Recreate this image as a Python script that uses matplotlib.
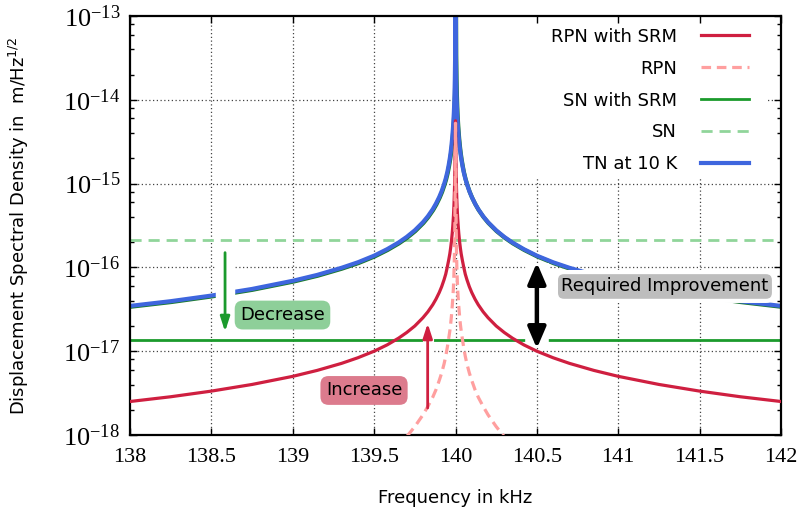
import math
import matplotlib
matplotlib.use("Agg")
import matplotlib.pyplot as plt
import matplotlib.patheffects as pe
from matplotlib.patches import Rectangle
from matplotlib.ticker import (MultipleLocator, LogLocator, FixedLocator, FuncFormatter,
                               FormatStrFormatter, NullFormatter)

# frequency grid in kHz (dense around the 140 kHz resonance)
freq = [138.0, 138.25, 138.5, 138.75, 139.0, 139.15, 139.3, 139.4, 139.5,
        139.58, 139.65, 139.7, 139.75, 139.8, 139.83, 139.86, 139.88, 139.9,
        139.915, 139.93, 139.94, 139.95, 139.958, 139.965, 139.97, 139.975, 139.98,
        139.984, 139.987, 139.99, 139.992, 139.994, 139.996, 139.998, 140.0,
        140.002, 140.004, 140.006, 140.008, 140.01, 140.013, 140.016,
        140.02, 140.025, 140.03, 140.035, 140.042, 140.05, 140.06, 140.07, 140.085,
        140.1, 140.12, 140.14, 140.17, 140.2, 140.25, 140.3, 140.35, 140.42,
        140.5, 140.6, 140.7, 140.85, 141.0, 141.25, 141.5, 141.75, 142.0]

# thermal noise at 10 K
tn_10k = [3.47e-17, 3.95e-17, 4.61e-17, 5.53e-17, 6.92e-17, 8.13e-17, 9.89e-17, 1.15e-16, 1.38e-16,
          1.65e-16, 1.98e-16, 2.31e-16, 2.77e-16, 3.46e-16, 4.07e-16, 4.94e-16, 5.77e-16, 6.92e-16,
          8.13e-16, 9.89e-16, 1.15e-15, 1.38e-15, 1.66e-15, 2.00e-15, 2.34e-15, 2.82e-15, 3.55e-15,
          4.47e-15, 5.50e-15, 7.08e-15, 8.91e-15, 1.17e-14, 1.78e-14, 3.55e-14, 3.16e-13,
          3.55e-14, 1.78e-14, 1.17e-14, 8.91e-15, 7.08e-15, 5.50e-15, 4.47e-15,
          3.55e-15, 2.82e-15, 2.34e-15, 2.00e-15, 1.66e-15, 1.38e-15, 1.15e-15, 9.89e-16, 8.13e-16,
          6.92e-16, 5.77e-16, 4.94e-16, 4.07e-16, 3.46e-16, 2.77e-16, 2.31e-16, 1.98e-16, 1.65e-16,
          1.38e-16, 1.15e-16, 9.89e-17, 8.13e-17, 6.92e-17, 5.53e-17, 4.61e-17, 3.95e-17, 3.47e-17]

# radiation pressure noise with signal recycling
rpn_srm = [2.51e-18, 2.86e-18, 3.34e-18, 4.01e-18, 5.01e-18, 5.90e-18, 7.16e-18, 8.35e-18, 1.00e-17,
           1.19e-17, 1.43e-17, 1.67e-17, 2.00e-17, 2.51e-17, 2.95e-17, 3.58e-17, 4.18e-17, 5.01e-17,
           5.89e-17, 7.16e-17, 8.32e-17, 1.02e-16, 1.22e-16, 1.45e-16, 1.70e-16, 2.04e-16, 2.57e-16,
           3.24e-16, 3.98e-16, 5.25e-16, 6.61e-16, 8.91e-16, 1.35e-15, 2.51e-15, 5.62e-15,
           2.51e-15, 1.35e-15, 8.91e-16, 6.61e-16, 5.25e-16, 3.98e-16, 3.24e-16,
           2.57e-16, 2.04e-16, 1.70e-16, 1.45e-16, 1.22e-16, 1.02e-16, 8.32e-17, 7.16e-17, 5.89e-17,
           5.01e-17, 4.18e-17, 3.58e-17, 2.95e-17, 2.51e-17, 2.00e-17, 1.67e-17, 1.43e-17, 1.19e-17,
           1.00e-17, 8.35e-18, 7.16e-18, 5.90e-18, 5.01e-18, 4.01e-18, 3.34e-18, 2.86e-18, 2.51e-18]

# radiation pressure noise without SRM (only the part above 1e-18)
freq_rpn = [139.58, 139.65, 139.7, 139.75, 139.8, 139.83, 139.86, 139.88, 139.9,
            139.915, 139.93, 139.94, 139.95, 139.958, 139.965, 139.97, 139.975, 139.98,
            139.984, 139.987, 139.99, 139.992, 139.994, 139.996, 139.998, 140.0,
            140.002, 140.004, 140.006, 140.008, 140.01, 140.013, 140.016,
            140.02, 140.025, 140.03, 140.035, 140.042, 140.05, 140.06, 140.07, 140.085,
            140.1, 140.12, 140.14, 140.17, 140.2, 140.25, 140.3, 140.35, 140.42]
rpn = [5.13e-19, 7.24e-19, 9.55e-19, 1.26e-18, 1.74e-18, 2.19e-18, 2.82e-18, 3.47e-18, 4.47e-18,
       5.50e-18, 7.08e-18, 8.71e-18, 1.12e-17, 1.41e-17, 1.74e-17, 2.09e-17, 2.63e-17, 3.47e-17,
       4.47e-17, 5.62e-17, 7.94e-17, 1.07e-16, 1.58e-16, 3.16e-16, 1.12e-15, 5.25e-15,
       1.12e-15, 3.16e-16, 1.58e-16, 1.07e-16, 7.94e-17, 5.62e-17, 4.47e-17,
       3.47e-17, 2.63e-17, 2.09e-17, 1.74e-17, 1.41e-17, 1.12e-17, 8.71e-18, 7.08e-18, 5.50e-18,
       4.47e-18, 3.47e-18, 2.82e-18, 2.19e-18, 1.74e-18, 1.26e-18, 9.55e-19, 7.24e-19, 5.13e-19]

# shot noise levels (flat over the band)
freq_sn = [138.0, 142.0]
sn_srm = [1.36e-17, 1.36e-17]
sn = [2.12e-16, 2.12e-16]

# decades shown on the y axis
y_decades = [1e-18, 1e-17, 1e-16, 1e-15, 1e-14, 1e-13]

# annotation arrows: (frequency, tail, tip)
decrease_arrow = (138.584, 1.50e-16, 1.71e-17)
increase_arrow = (139.829, 2.10e-18, 2.15e-17)
improve_arrow = (140.5, 1.08e-17, 1.14e-16)

c_rpn_srm = "#cf1f40"
c_rpn = "#ff9f9f"
c_sn_srm = "#1b9a2c"
c_sn = "#90d59a"
c_tn = "#3e66de"

plt.rcParams["font.family"] = ["DejaVu Sans"]

fig = plt.figure(figsize=(7.98, 5.2), dpi=100)
ax = fig.add_axes([130 / 798, 85 / 520, 651 / 798, 419 / 520])

ax.set_xlim(138, 142)
ax.set_yscale("log")
ax.set_ylim(y_decades[0], y_decades[-1])

ax.xaxis.set_major_locator(MultipleLocator(0.5))
ax.xaxis.set_major_formatter(FormatStrFormatter("%g"))
ax.yaxis.set_major_locator(FixedLocator(y_decades))
ax.yaxis.set_minor_locator(LogLocator(base=10, subs=[2, 4, 6, 8]))
ax.yaxis.set_minor_formatter(NullFormatter())
ax.yaxis.set_major_formatter(FuncFormatter(
    lambda v, pos: r"$\mathregular{10^{%d}}$" % round(math.log10(v))))

ax.tick_params(which="both", direction="in", top=True, right=True, width=1.0, colors="black")
ax.tick_params(which="major", length=5)
ax.tick_params(which="minor", length=3)
ax.tick_params(axis="x", labelsize=16, pad=9, labelfontfamily="Liberation Serif")
ax.tick_params(axis="y", labelsize=19, pad=7, labelfontfamily="Liberation Serif")
for s in ax.spines.values():
    s.set_linewidth(1.6)

# dotted grid at major ticks
for v in ax.xaxis.get_majorticklocs():
    if 138 < v < 142:
        ax.axvline(v, color="#444444", lw=0.9, ls=(0, (1, 2)), zorder=0.5)
for v in y_decades[1:-1]:
    ax.axhline(v, color="#444444", lw=0.9, ls=(0, (1, 2)), zorder=0.5)

# white background behind the key
ax.add_patch(Rectangle((0.507, 0.613), 0.47, 0.39, transform=ax.transAxes,
                       facecolor="white", edgecolor="none", zorder=1))

l_sn, = ax.plot(freq_sn, sn, color=c_sn, lw=2.0, dashes=(4, 2.5), zorder=2)
l_sn_srm, = ax.plot(freq_sn, sn_srm, color=c_sn_srm, lw=2.0, zorder=2.1)
l_tn, = ax.plot(freq, tn_10k, color=c_tn, lw=3.0, zorder=2.2,
                path_effects=[pe.SimpleLineShadow(offset=(0.3, -0.6), shadow_color="#1b7a2c", alpha=1.0),
                              pe.Normal()])
l_rpn_srm, = ax.plot(freq, rpn_srm, color=c_rpn_srm, lw=2.3, zorder=2.6)
l_rpn, = ax.plot(freq_rpn, rpn, color=c_rpn, lw=2.3, dashes=(3, 1.8), zorder=2.7)

# white bands that interrupt the curves behind the arrows
for (x, y0, y1), w in [(decrease_arrow, 14), (increase_arrow, 8), (improve_arrow, 17)]:
    ax.plot([x, x], [y0, y1], color="white", lw=w, solid_capstyle="butt", zorder=2.5)

ax.annotate("", xy=(decrease_arrow[0], decrease_arrow[2]), xytext=(decrease_arrow[0], decrease_arrow[1]),
            arrowprops=dict(arrowstyle="-|>,head_length=0.62,head_width=0.2", color=c_sn_srm,
                            lw=2.0, shrinkA=0, shrinkB=0, mutation_scale=14), zorder=4)
ax.annotate("", xy=(increase_arrow[0], increase_arrow[2]), xytext=(increase_arrow[0], increase_arrow[1]),
            arrowprops=dict(arrowstyle="-|>,head_length=0.62,head_width=0.2", color=c_rpn_srm,
                            lw=2.0, shrinkA=0, shrinkB=0, mutation_scale=14), zorder=4)
ax.annotate("", xy=(improve_arrow[0], improve_arrow[2]), xytext=(improve_arrow[0], improve_arrow[1]),
            arrowprops=dict(arrowstyle="<|-|>,head_length=0.7,head_width=0.3", color="black",
                            lw=3.2, shrinkA=0, shrinkB=0, mutation_scale=18), zorder=4)

box = "round,pad=0.3,rounding_size=0.45"
ax.text(138.937, 2.70e-17, "Decrease", fontsize=13, ha="center", va="center", zorder=5,
        bbox=dict(boxstyle=box, facecolor="#8ecf99", edgecolor="none"))
ax.text(139.438, 3.40e-18, "Increase", fontsize=13, ha="center", va="center", zorder=5,
        bbox=dict(boxstyle=box, facecolor="#dc7b8d", edgecolor="none"))
ax.text(141.287, 5.92e-17, "Required Improvement", fontsize=13, ha="center", va="center", zorder=5,
        bbox=dict(boxstyle=box, facecolor="#bdbdbd", edgecolor="white", linewidth=3))

leg = ax.legend([l_rpn_srm, l_rpn, l_sn_srm, l_sn, l_tn],
                ["RPN with SRM", "RPN", "SN with SRM", "SN", "TN at 10 K"],
                loc="upper right", bbox_to_anchor=(0.951, 0.972), frameon=False,
                markerfirst=False, fontsize=13, handlelength=2.66, handletextpad=1.33,
                labelspacing=0.77, borderpad=0, borderaxespad=0)
leg.set_zorder(6)
leg.get_lines()[4].set_path_effects([])

ax.set_xlabel("Frequency in kHz", fontsize=13, labelpad=16)
ax.set_ylabel(r"Displacement Spectral Density in  m/Hz$^{1/2}$", fontsize=13, labelpad=23)

fig.savefig("out.png", dpi=100)
